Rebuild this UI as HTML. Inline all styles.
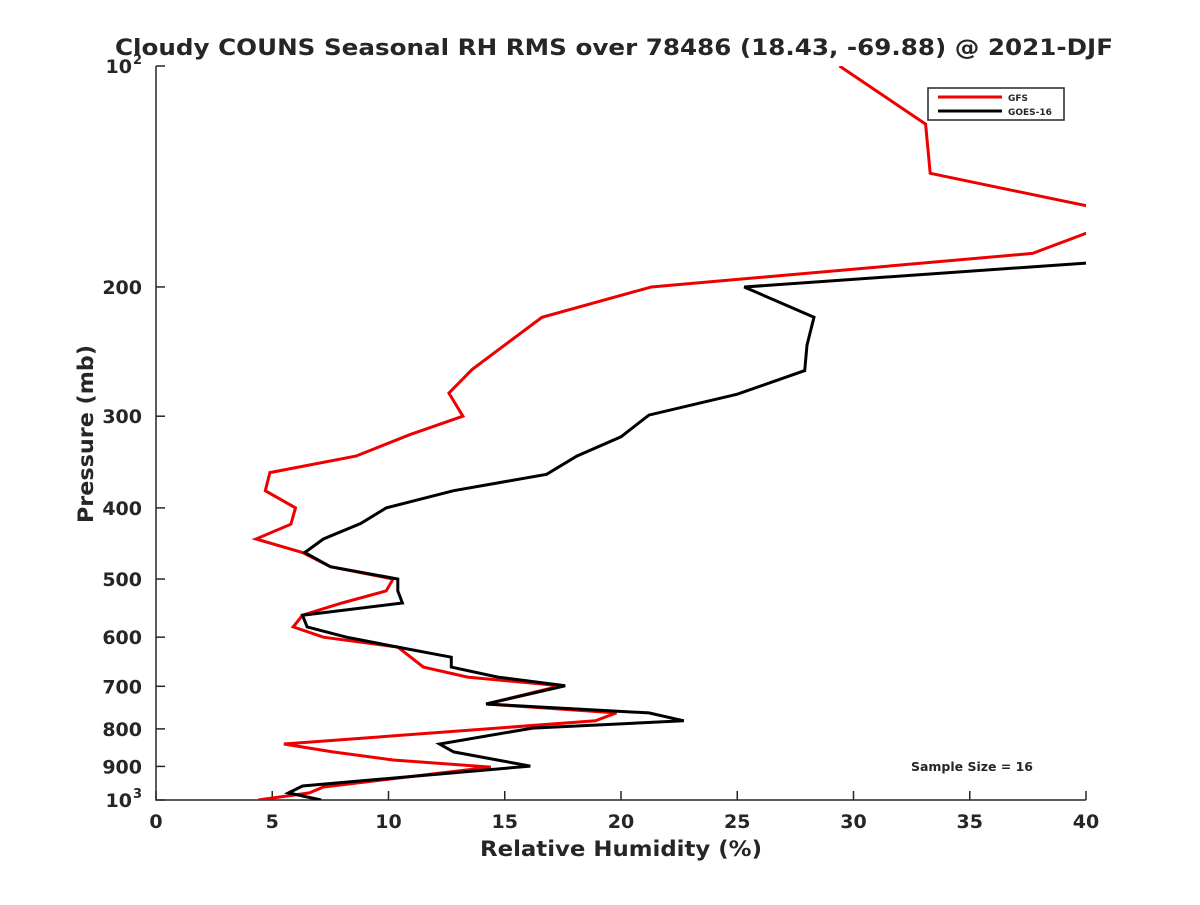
<!DOCTYPE html>
<html><head><meta charset="utf-8"><style>
body{margin:0;background:#fff}
svg text{font-family:"DejaVu Sans","Liberation Sans",sans-serif;font-weight:bold;fill:#262626}
</style></head><body>
<svg width="1200" height="900" xmlns="http://www.w3.org/2000/svg">
<defs><clipPath id="clip"><rect x="156" y="66" width="930" height="734"/></clipPath></defs>
<text x="115" y="55" font-size="22" textLength="998" lengthAdjust="spacingAndGlyphs" fill="#000">Cloudy COUNS Seasonal RH RMS over 78486 (18.43, -69.88) @ 2021-DJF</text>
<g id="axes"></g>
<g id="series" clip-path="url(#clip)"></g>
<g>
<rect x="928" y="88" width="136" height="32" fill="#fff" stroke="#262626" stroke-width="1.5"/>
<line x1="938" y1="97" x2="1002" y2="97" stroke="#e00" stroke-width="3"/>
<text x="1008" y="101" font-size="9">GFS</text>
<line x1="938" y1="111" x2="1002" y2="111" stroke="#000" stroke-width="3"/>
<text x="1008" y="115" font-size="9">GOES-16</text>
</g>
<text x="911" y="771" font-size="12" textLength="122" lengthAdjust="spacingAndGlyphs" fill="#000">Sample Size = 16</text>
<text x="480" y="856" font-size="21" textLength="282" lengthAdjust="spacingAndGlyphs">Relative Humidity (%)</text>
<text transform="translate(93,523) rotate(-90)" font-size="21" textLength="178" lengthAdjust="spacingAndGlyphs">Pressure (mb)</text>
</svg>
<script>
const xTicks=[0,5,10,15,20,25,30,35,40];
const yTicks=[200,300,400,500,600,700,800,900];
const gfsP=[100,120,140,155,162,169,180,200,220,259,279,300,318,340,358,379,400,421,441,460,481,500,519,539,560,581,600,619,659,680,699,740,761,780,839,860,882,902,919,960,978,1000];
const gfsX=[29.4,33.1,33.3,40.0,43,40,37.7,21.3,16.6,13.6,12.6,13.2,10.9,8.6,4.9,4.7,6.0,5.8,4.3,6.3,7.5,10.2,9.9,8.0,6.3,5.9,7.2,10.4,11.5,13.4,17.4,14.2,19.8,18.9,5.5,7.6,10.2,14.4,12.2,7.2,6.6,4.4];
const goesP=[180,185.6,200,220,240,260,280,299,320,340,360,379,400,420,441,460,481,500,519,539,560,581,600,619,639,659,680,699,740,761,780,798,839,860,899,957,978,1000];
const goesX=[45,40,25.3,28.3,28.0,27.9,25.0,21.2,20.0,18.1,16.8,12.8,9.9,8.8,7.2,6.4,7.5,10.4,10.4,10.6,6.3,6.5,8.2,10.4,12.7,12.7,14.7,17.6,14.2,21.2,22.7,16.2,12.2,12.8,16.1,6.3,5.7,7.1];
const NS="http://www.w3.org/2000/svg";
const X=v=>156+v*(930/40);
const Y=p=>66+(Math.log10(p)-2)*734;
const axes=document.getElementById('axes');
function mk(tag,attrs,parent){const e=document.createElementNS(NS,tag);for(const k in attrs)e.setAttribute(k,attrs[k]);parent.appendChild(e);return e;}
const ax=mk('path',{d:`M156 66 V800 H1086`,fill:'none',stroke:'#262626','stroke-width':1.5},axes);


xTicks.forEach(v=>{
 mk('line',{x1:X(v),x2:X(v),y1:800,y2:791,stroke:'#262626','stroke-width':1.5},axes);
 const t=mk('text',{x:X(v),y:828,'text-anchor':'middle','font-size':19},axes);
 t.textContent=v;
 
 
});
yTicks.forEach(p=>{
 mk('line',{x1:156,x2:165,y1:Y(p),y2:Y(p),stroke:'#262626','stroke-width':1.5},axes);
 const t=mk('text',{x:142,y:Y(p)+7,'text-anchor':'end','font-size':19},axes);
 t.textContent=p;
 
 
});
[[100,'2'],[1000,'3']].forEach(([p,e])=>{
 mk('line',{x1:156,x2:165,y1:Y(p),y2:Y(p),stroke:'#262626','stroke-width':1.5},axes);
 const t=mk('text',{x:132,y:Y(p)+7,'text-anchor':'end','font-size':19},axes);
 t.textContent='10';
 
 
 const s=mk('text',{x:133,y:Y(p)-2,'font-size':13},axes);
 s.textContent=e;
 
 
});
const ser=document.getElementById('series');
function line(P,V,color,name){
 const d=P.map((p,i)=>(i?'L':'M')+X(V[i]).toFixed(1)+' '+Y(p).toFixed(1)).join(' ');
 const e=mk('path',{d:d,fill:'none',stroke:color,'stroke-width':3,'stroke-linejoin':'miter'},ser);
 
 
}
line(gfsP,gfsX,'#e00','gfs-line');
line(goesP,goesX,'#000','goes16-line');
</script>
</body></html>
